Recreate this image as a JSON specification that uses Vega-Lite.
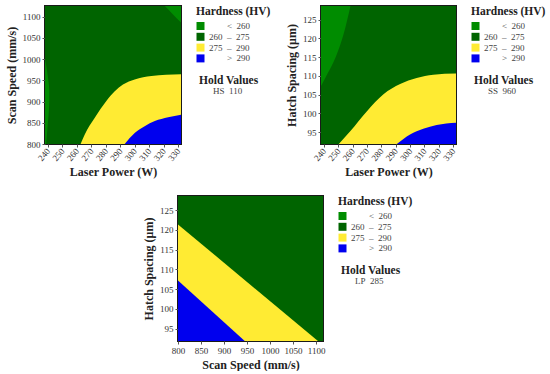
{
  "$schema": "https://vega.github.io/schema/vega-lite/v6.json",
  "padding": {"left": 4, "top": 5, "right": 0, "bottom": 0},
  "background": "white",
  "config": {
    "font": "Liberation Serif",
    "view": {"stroke": "#1a1a1a", "strokeWidth": 2},
    "axis": {"grid": false, "domain": false, "labelFont": "Liberation Serif", "labelFontSize": 9, "labelColor": "#333", "labelOverlap": false, "labelFlush": false, "tickColor": "#555", "tickSize": 3, "titleFont": "Liberation Serif", "titleFontSize": 12, "titleFontWeight": "bold", "titleColor": "#222", "labelPadding": 2},
    "legend": {"titleFont": "Liberation Serif", "titleFontSize": 11.5, "titleFontWeight": "bold", "titleColor": "#222", "labelFont": "Liberation Serif", "labelFontSize": 9, "labelColor": "#444", "symbolType": "square", "symbolSize": 64, "symbolStrokeWidth": 0, "symbolOpacity": 1, "offset": 15, "rowPadding": 0.8, "titlePadding": 4}
  },
  "datasets": {
    "p1_bg": [{"lp": 238, "lp_end": 332, "ss": 800, "ss_end": 1125, "zone": "260-275", "hold": "HS\u00a0\u00a0110"}],
    "p1_yellow": [{"lp": 262.6, "ss": 800}, {"lp": 265.4, "ss": 822}, {"lp": 272.3, "ss": 861}, {"lp": 280.4, "ss": 901}, {"lp": 286.2, "ss": 924}, {"lp": 291.9, "ss": 940}, {"lp": 300, "ss": 952}, {"lp": 311.6, "ss": 960}, {"lp": 332, "ss": 964}],
    "p1_blue": [{"lp": 293.1, "ss": 800}, {"lp": 300, "ss": 826}, {"lp": 306.9, "ss": 842}, {"lp": 313.9, "ss": 854}, {"lp": 323.1, "ss": 863}, {"lp": 332, "ss": 869}],
    "p1_lgleft": [{"lp": 238, "ss": 1000}, {"lp": 239.3, "ss": 975}, {"lp": 240.3, "ss": 950}, {"lp": 241, "ss": 925}, {"lp": 241, "ss": 900}, {"lp": 240.6, "ss": 875}, {"lp": 240, "ss": 850}, {"lp": 239.4, "ss": 825}, {"lp": 238.8, "ss": 800}],
    "p1_lgcorner": [{"lp": 320.8, "ss": 1125}, {"lp": 326, "ss": 1107}, {"lp": 332, "ss": 1086}],
    "p2_bg": [{"lp": 238, "lp_end": 332, "hs": 91.85, "hs_end": 128.6, "zone": "260-275", "hold": "SS\u00a0\u00a0960"}],
    "p2_yellow": [{"lp": 250.4, "hs": 91.85}, {"lp": 258.5, "hs": 95.3}, {"lp": 270, "hs": 100.6}, {"lp": 281.5, "hs": 105.1}, {"lp": 293.1, "hs": 107.8}, {"lp": 304.6, "hs": 109.4}, {"lp": 316.2, "hs": 110.3}, {"lp": 332, "hs": 110.6}],
    "p2_blue": [{"lp": 290.8, "hs": 91.85}, {"lp": 300, "hs": 94.4}, {"lp": 309.2, "hs": 95.9}, {"lp": 318.5, "hs": 96.9}, {"lp": 332, "hs": 97.5}],
    "p2_lg": [{"lp": 238, "hs": 107.3}, {"lp": 242.3, "hs": 110.4}, {"lp": 248.1, "hs": 114.9}, {"lp": 253.8, "hs": 121.2}, {"lp": 258.5, "hs": 128.6}],
    "p3_bg": [{"ss": 800, "ss_end": 1115, "hs": 91.85, "hs_end": 128.6, "zone": "260-275", "hold": "LP\u00a0\u00a0285"}],
    "p3_yellow": [{"ss": 800, "hs": 121.4}, {"ss": 1104, "hs": 91.85}],
    "p3_blue": [{"ss": 800, "hs": 107.2}, {"ss": 945, "hs": 91.85}]
  },
  "vconcat": [
    {
      "hconcat": [
        {
          "width": 136, "height": 138,
          "encoding": {
            "x": {"field": "lp", "type": "quantitative", "scale": {"domain": [238, 332], "nice": false, "zero": false}, "axis": {"title": "Laser Power (W)", "values": [240, 250, 260, 270, 280, 290, 300, 310, 320, 330], "labelAngle": -50, "labelOverlap": false, "labelFlush": false}},
            "y": {"field": "ss", "type": "quantitative", "scale": {"domain": [800, 1125], "nice": false, "zero": false}, "axis": {"title": "Scan Speed (mm/s)", "values": [800, 850, 900, 950, 1000, 1050, 1100], "format": "d", "labelOverlap": false, "labelFlush": false}}
          },
          "layer": [
            {
              "data": {"name": "p1_bg"},
              "mark": {"type": "rect"},
              "encoding": {
                "x2": {"field": "lp_end"},
                "y2": {"field": "ss_end"},
                "color": {"field": "zone", "type": "nominal", "scale": {"domain": ["<260", "260-275", "275-290", ">290"], "range": ["#008C00", "#006400", "#FFEB33", "#0000EE"]}, "legend": {"title": "Hardness (HV)", "labelExpr": "datum.label == '<260' ? '\u200d\u2007\u2007\u2007\u00a0\u00a0<\u00a0\u00a0260' : datum.label == '>290' ? '\u200d\u2007\u2007\u2007\u00a0\u00a0>\u00a0\u00a0290' : datum.label == '260-275' ? '260\u00a0\u00a0\u2013\u00a0\u00a0275' : '275\u00a0\u00a0\u2013\u00a0\u00a0290'"}},
                "opacity": {"field": "hold", "type": "ordinal", "scale": {"range": [1, 1]}, "legend": {"title": "Hold Values", "symbolSize": 0, "symbolOpacity": 0, "labelOffset": 5, "padding": 3, "titlePadding": 0}}
              }
            },
            {
              "data": {"name": "p1_yellow"},
              "mark": {"type": "area", "interpolate": "monotone", "clip": true},
              "encoding": {"y2": {"datum": 800}, "color": {"datum": "275-290"}}
            },
            {
              "data": {"name": "p1_blue"},
              "mark": {"type": "area", "interpolate": "monotone", "clip": true},
              "encoding": {"y2": {"datum": 800}, "color": {"datum": ">290"}}
            },
            {
              "data": {"name": "p1_lgleft"},
              "mark": {"type": "area", "orient": "horizontal", "interpolate": "monotone", "clip": true},
              "encoding": {"x2": {"datum": 238}, "color": {"datum": "<260"}}
            },
            {
              "data": {"name": "p1_lgcorner"},
              "mark": {"type": "area", "interpolate": "monotone", "clip": true},
              "encoding": {"y2": {"datum": 1125}, "color": {"datum": "<260"}}
            }
          ]
        },
        {
          "width": 135, "height": 138,
          "encoding": {
            "x": {"field": "lp", "type": "quantitative", "scale": {"domain": [238, 332], "nice": false, "zero": false}, "axis": {"title": "Laser Power (W)", "values": [240, 250, 260, 270, 280, 290, 300, 310, 320, 330], "labelAngle": -50, "labelOverlap": false, "labelFlush": false}},
            "y": {"field": "hs", "type": "quantitative", "scale": {"domain": [91.85, 128.6], "nice": false, "zero": false}, "axis": {"title": "Hatch Spacing (\u03bcm)", "values": [95, 100, 105, 110, 115, 120, 125], "labelOverlap": false, "labelFlush": false}}
          },
          "layer": [
            {
              "data": {"name": "p2_bg"},
              "mark": {"type": "rect"},
              "encoding": {
                "x2": {"field": "lp_end"},
                "y2": {"field": "hs_end"},
                "color": {"field": "zone", "type": "nominal", "scale": {"domain": ["<260", "260-275", "275-290", ">290"], "range": ["#008C00", "#006400", "#FFEB33", "#0000EE"]}, "legend": {"title": "Hardness (HV)", "labelExpr": "datum.label == '<260' ? '\u200d\u2007\u2007\u2007\u00a0\u00a0<\u00a0\u00a0260' : datum.label == '>290' ? '\u200d\u2007\u2007\u2007\u00a0\u00a0>\u00a0\u00a0290' : datum.label == '260-275' ? '260\u00a0\u00a0\u2013\u00a0\u00a0275' : '275\u00a0\u00a0\u2013\u00a0\u00a0290'"}},
                "opacity": {"field": "hold", "type": "ordinal", "scale": {"range": [1, 1]}, "legend": {"title": "Hold Values", "symbolSize": 0, "symbolOpacity": 0, "labelOffset": 5, "padding": 3, "titlePadding": 0}}
              }
            },
            {
              "data": {"name": "p2_yellow"},
              "mark": {"type": "area", "interpolate": "monotone", "clip": true},
              "encoding": {"y2": {"datum": 91.85}, "color": {"datum": "275-290"}}
            },
            {
              "data": {"name": "p2_blue"},
              "mark": {"type": "area", "interpolate": "monotone", "clip": true},
              "encoding": {"y2": {"datum": 91.85}, "color": {"datum": ">290"}}
            },
            {
              "data": {"name": "p2_lg"},
              "mark": {"type": "area", "interpolate": "monotone", "clip": true},
              "encoding": {"y2": {"datum": 128.6}, "color": {"datum": "<260"}}
            }
          ]
        }
      ],
      "spacing": 12,
      "resolve": {"scale": {"color": "independent", "opacity": "independent"}, "legend": {"color": "independent", "opacity": "independent"}}
    },
    {
      "width": 145, "height": 145,
      "encoding": {
        "x": {"field": "ss", "type": "quantitative", "scale": {"domain": [800, 1115], "nice": false, "zero": false}, "axis": {"title": "Scan Speed (mm/s)", "values": [800, 850, 900, 950, 1000, 1050, 1100], "format": "d", "labelAngle": 0, "labelOverlap": false, "labelFlush": false}},
        "y": {"field": "hs", "type": "quantitative", "scale": {"domain": [91.85, 128.6], "nice": false, "zero": false}, "axis": {"title": "Hatch Spacing (\u03bcm)", "values": [95, 100, 105, 110, 115, 120, 125], "labelOverlap": false, "labelFlush": false}}
      },
      "layer": [
        {
          "data": {"name": "p3_bg"},
          "mark": {"type": "rect"},
          "encoding": {
            "x2": {"field": "ss_end"},
            "y2": {"field": "hs_end"},
            "color": {"field": "zone", "type": "nominal", "scale": {"domain": ["<260", "260-275", "275-290", ">290"], "range": ["#008C00", "#006400", "#FFEB33", "#0000EE"]}, "legend": {"title": "Hardness (HV)", "labelExpr": "datum.label == '<260' ? '\u200d\u2007\u2007\u2007\u00a0\u00a0<\u00a0\u00a0260' : datum.label == '>290' ? '\u200d\u2007\u2007\u2007\u00a0\u00a0>\u00a0\u00a0290' : datum.label == '260-275' ? '260\u00a0\u00a0\u2013\u00a0\u00a0275' : '275\u00a0\u00a0\u2013\u00a0\u00a0290'"}},
            "opacity": {"field": "hold", "type": "ordinal", "scale": {"range": [1, 1]}, "legend": {"title": "Hold Values", "symbolSize": 0, "symbolOpacity": 0, "labelOffset": 5, "padding": 3, "titlePadding": 0}}
          }
        },
        {
          "data": {"name": "p3_yellow"},
          "mark": {"type": "area", "clip": true},
          "encoding": {"y2": {"datum": 91.85}, "color": {"datum": "275-290"}}
        },
        {
          "data": {"name": "p3_blue"},
          "mark": {"type": "area", "clip": true},
          "encoding": {"y2": {"datum": 91.85}, "color": {"datum": ">290"}}
        }
      ]
    }
  ],
  "spacing": 16,
  "center": true,
  "resolve": {"scale": {"color": "independent", "opacity": "independent"}, "legend": {"color": "independent", "opacity": "independent"}}
}
